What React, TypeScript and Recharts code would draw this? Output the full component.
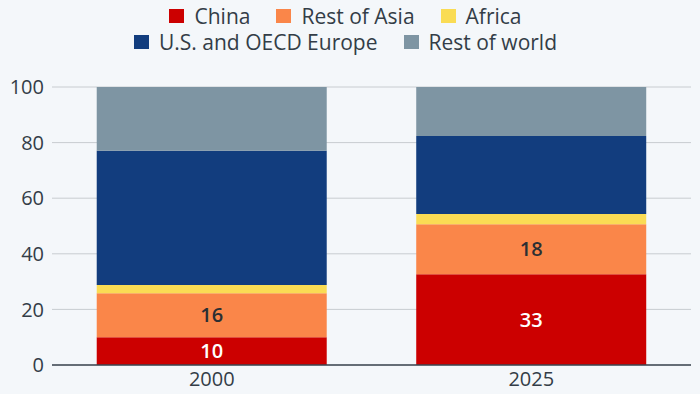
import { BarChart, Bar, XAxis, YAxis, CartesianGrid, Legend, LabelList } from 'recharts'

const years = ['2000', '2025']
const china = [10, 32.6]
const restOfAsia = [15.8, 18]
const africa = [3, 3.7]
const usOecdEurope = [48.3, 28.1]
const restOfWorld = [22.9, 17.6]
const yTicks = [0, 20, 40, 60, 80, 100]

const series = [
  { key: 'china', name: 'China', color: '#cc0000' },
  { key: 'asia', name: 'Rest of Asia', color: '#fa8649' },
  { key: 'africa', name: 'Africa', color: '#fadc54' },
  { key: 'us', name: 'U.S. and OECD Europe', color: '#123d7e' },
  { key: 'world', name: 'Rest of world', color: '#7e95a3' },
]

const data = years.map((year, i) => ({
  year,
  china: china[i],
  asia: restOfAsia[i],
  africa: africa[i],
  us: usOecdEurope[i],
  world: restOfWorld[i],
}))

const FONT = '"Open Sans", sans-serif'

function LegendRows() {
  const rows = [series.slice(0, 3), series.slice(3)]
  return (
    <div style={{ height: 87, paddingTop: 3, boxSizing: 'border-box', fontFamily: FONT, fontSize: 21, color: '#333d47' }}>
      {rows.map((row, r) => (
        <div key={r} style={{ display: 'flex', justifyContent: 'center', gap: 26, height: 26, alignItems: 'center' }}>
          {row.map((s) => (
            <div key={s.key} style={{ display: 'flex', alignItems: 'center' }}>
              <span style={{ width: 15, height: 14, background: s.color, marginRight: 10, display: 'inline-block' }} />
              <span>{s.name}</span>
            </div>
          ))}
        </div>
      ))}
    </div>
  )
}

const round = (v: any) => Math.round(Number(v))

export default function App() {
  return (
    <div style={{ position: 'absolute', left: 0, top: 0, width: 700, height: 394, background: '#f4f7fa' }}>
      <BarChart
        width={700}
        height={394}
        data={data}
        margin={{ top: 0, right: 9, bottom: 0, left: 0 }}
        barCategoryGap="14%"
      >
        <Legend verticalAlign="top" align="center" content={() => <LegendRows />} />
        <CartesianGrid vertical={false} stroke="#c8ccd0" />
        <XAxis
          dataKey="year"
          height={29}
          tickLine={false}
          axisLine={{ stroke: '#3c4650', strokeWidth: 1.5 }}
          tick={{ fill: '#333d47', fontSize: 20, fontFamily: FONT }}
          tickMargin={1}
        />
        <YAxis
          width={52}
          domain={[0, 100]}
          ticks={yTicks}
          axisLine={false}
          tickLine={false}
          tick={{ fill: '#333d47', fontSize: 20, fontFamily: FONT }}
        />
        <Bar dataKey="china" name="China" stackId="a" fill="#cc0000" isAnimationActive={false}>
          <LabelList dataKey="china" position="center" formatter={round} fill="#ffffff" fontSize={20} fontFamily={FONT} fontWeight={600} />
        </Bar>
        <Bar dataKey="asia" name="Rest of Asia" stackId="a" fill="#fa8649" isAnimationActive={false}>
          <LabelList dataKey="asia" position="center" formatter={round} fill="#2b2f33" fontSize={20} fontFamily={FONT} fontWeight={600} />
        </Bar>
        <Bar dataKey="africa" name="Africa" stackId="a" fill="#fadc54" isAnimationActive={false} />
        <Bar dataKey="us" name="U.S. and OECD Europe" stackId="a" fill="#123d7e" isAnimationActive={false} />
        <Bar dataKey="world" name="Rest of world" stackId="a" fill="#7e95a3" isAnimationActive={false} />
      </BarChart>
    </div>
  )
}
